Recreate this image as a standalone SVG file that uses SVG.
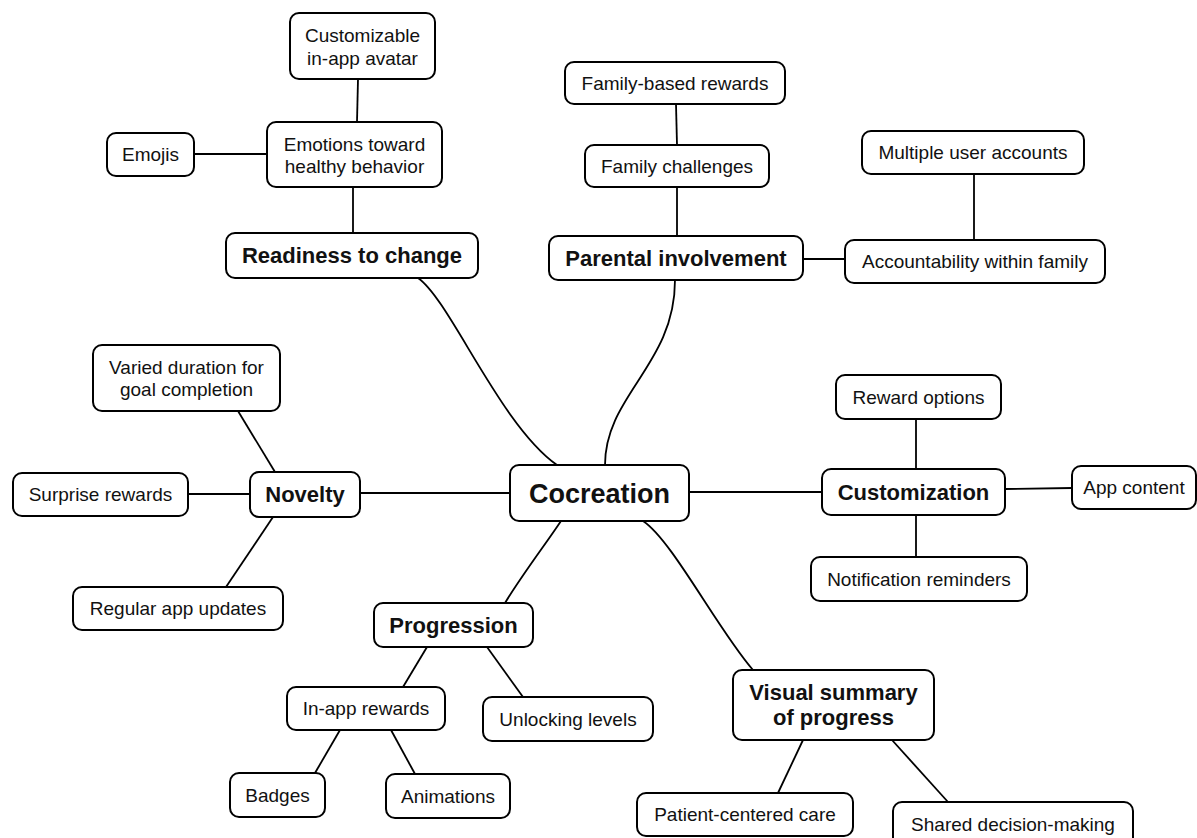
<svg xmlns="http://www.w3.org/2000/svg" width="1197" height="838" viewBox="0 0 1197 838">
<style>
.box{fill:#fff;stroke:#000;stroke-width:2}
.t{font-family:"Liberation Sans",Arial,sans-serif;font-size:19px;fill:#111;text-anchor:middle}
.b{font-family:"Liberation Sans",Arial,sans-serif;font-size:22px;font-weight:bold;fill:#111;text-anchor:middle}
.c{font-family:"Liberation Sans",Arial,sans-serif;font-size:27px;font-weight:bold;fill:#111;text-anchor:middle}
.ln{fill:none;stroke:#000;stroke-width:1.8}
</style>
<rect width="1197" height="838" fill="#fff"/>
<g id="connectors">
<line class="ln" x1="358" y1="79" x2="357" y2="122"/>
<line class="ln" x1="194" y1="154" x2="267" y2="154"/>
<line class="ln" x1="353" y1="187" x2="353" y2="233"/>
<path class="ln" d="M418,278 C450,300 500,425 557,465"/>
<line class="ln" x1="676" y1="104" x2="677" y2="145"/>
<line class="ln" x1="677" y1="187" x2="677" y2="236"/>
<line class="ln" x1="974" y1="174" x2="974" y2="240"/>
<line class="ln" x1="803" y1="259" x2="845" y2="259"/>
<path class="ln" d="M675,280 C675,365 605,395 605,465"/>
<line class="ln" x1="238" y1="411" x2="275" y2="472"/>
<line class="ln" x1="188" y1="494" x2="250" y2="494"/>
<line class="ln" x1="273" y1="517" x2="226" y2="587"/>
<line class="ln" x1="360" y1="493" x2="510" y2="493"/>
<line class="ln" x1="689" y1="492" x2="822" y2="492"/>
<line class="ln" x1="916" y1="419" x2="916" y2="469"/>
<line class="ln" x1="916" y1="515" x2="916" y2="557"/>
<line class="ln" x1="1005" y1="489" x2="1072" y2="488"/>
<path class="ln" d="M561,521 C545,545 522,575 505,603"/>
<path class="ln" d="M643,521 C672,540 718,630 753,670"/>
<line class="ln" x1="427" y1="647" x2="403" y2="687"/>
<line class="ln" x1="487" y1="647" x2="523" y2="697"/>
<line class="ln" x1="340" y1="730" x2="315" y2="773"/>
<line class="ln" x1="391" y1="730" x2="415" y2="774"/>
<line class="ln" x1="803" y1="740" x2="778" y2="793"/>
<line class="ln" x1="892" y1="740" x2="948" y2="802"/>
</g>
<g id="customizable-avatar"><rect class="box" x="290" y="13" width="145" height="66" rx="9"/><text class="t" x="362.5" y="42">Customizable</text><text class="t" x="362.5" y="65">in-app avatar</text></g>
<g id="emojis"><rect class="box" x="107" y="133" width="87" height="43" rx="9"/><text class="t" x="150.5" y="161">Emojis</text></g>
<g id="emotions"><rect class="box" x="267" y="122" width="175" height="65" rx="9"/><text class="t" x="354.5" y="151">Emotions toward</text><text class="t" x="354.5" y="173">healthy behavior</text></g>
<g id="readiness"><rect class="box" x="226" y="233" width="252" height="45" rx="9"/><text class="b" x="352" y="263">Readiness to change</text></g>
<g id="family-based-rewards"><rect class="box" x="565" y="62" width="220" height="42" rx="9"/><text class="t" x="675" y="90">Family-based rewards</text></g>
<g id="family-challenges"><rect class="box" x="585" y="145" width="184" height="42" rx="9"/><text class="t" x="677" y="173">Family challenges</text></g>
<g id="parental"><rect class="box" x="549" y="236" width="254" height="44" rx="9"/><text class="b" x="676" y="266">Parental involvement</text></g>
<g id="multiple-accounts"><rect class="box" x="862" y="131" width="222" height="43" rx="9"/><text class="t" x="973" y="159">Multiple user accounts</text></g>
<g id="accountability"><rect class="box" x="845" y="240" width="260" height="43" rx="9"/><text class="t" x="975" y="268">Accountability within family</text></g>
<g id="varied-duration"><rect class="box" x="93" y="345" width="187" height="66" rx="9"/><text class="t" x="186.5" y="374">Varied duration for</text><text class="t" x="186.5" y="396">goal completion</text></g>
<g id="surprise-rewards"><rect class="box" x="13" y="473" width="175" height="43" rx="9"/><text class="t" x="100.5" y="501">Surprise rewards</text></g>
<g id="novelty"><rect class="box" x="250" y="472" width="110" height="45" rx="9"/><text class="b" x="305" y="502">Novelty</text></g>
<g id="regular-updates"><rect class="box" x="73" y="587" width="210" height="43" rx="9"/><text class="t" x="178" y="615">Regular app updates</text></g>
<g id="cocreation"><rect class="box" x="510" y="465" width="179" height="56" rx="9"/><text class="c" x="599.5" y="503">Cocreation</text></g>
<g id="reward-options"><rect class="box" x="836" y="375" width="165" height="44" rx="9"/><text class="t" x="918.5" y="404">Reward options</text></g>
<g id="customization"><rect class="box" x="822" y="469" width="183" height="46" rx="9"/><text class="b" x="913.5" y="500">Customization</text></g>
<g id="app-content"><rect class="box" x="1072" y="466" width="124" height="43" rx="9"/><text class="t" x="1134" y="494">App content</text></g>
<g id="notification"><rect class="box" x="811" y="557" width="216" height="44" rx="9"/><text class="t" x="919" y="586">Notification reminders</text></g>
<g id="progression"><rect class="box" x="374" y="603" width="159" height="44" rx="9"/><text class="b" x="453.5" y="633">Progression</text></g>
<g id="inapp-rewards"><rect class="box" x="287" y="687" width="158" height="43" rx="9"/><text class="t" x="366" y="715">In-app rewards</text></g>
<g id="unlocking"><rect class="box" x="483" y="697" width="170" height="44" rx="9"/><text class="t" x="568" y="726">Unlocking levels</text></g>
<g id="badges"><rect class="box" x="230" y="773" width="95" height="44" rx="9"/><text class="t" x="277.5" y="802">Badges</text></g>
<g id="animations"><rect class="box" x="386" y="774" width="124" height="44" rx="9"/><text class="t" x="448" y="803">Animations</text></g>
<g id="visual-summary"><rect class="box" x="733" y="670" width="201" height="70" rx="9"/><text class="b" x="833.5" y="700">Visual summary</text><text class="b" x="833.5" y="725">of progress</text></g>
<g id="patient-centered"><rect class="box" x="637" y="793" width="216" height="43" rx="9"/><text class="t" x="745" y="821">Patient-centered care</text></g>
<g id="shared-decision"><rect class="box" x="893" y="802" width="240" height="44" rx="9"/><text class="t" x="1013" y="831">Shared decision-making</text></g>
</svg>
